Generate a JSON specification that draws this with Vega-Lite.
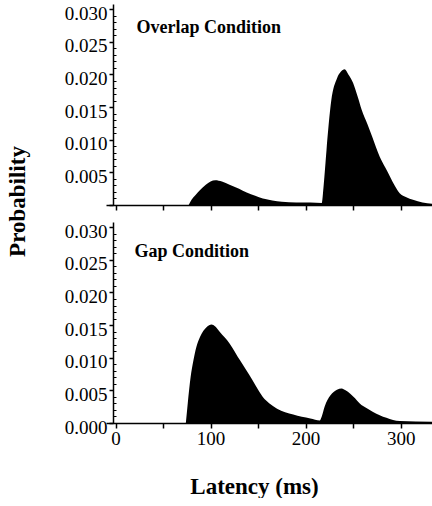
{
  "$schema": "https://vega.github.io/schema/vega-lite/v6.json",
  "background": "white",
  "padding": {"left": 6, "top": 4, "right": 0, "bottom": 0},
  "spacing": 17,
  "bounds": "flush",
  "config": {
    "view": {"stroke": null},
    "font": "Liberation Serif",
    "axis": {
      "grid": false,
      "domainColor": "black",
      "domainWidth": 1.5,
      "tickColor": "black",
      "tickWidth": 1.5,
      "labelColor": "black",
      "labelFont": "Liberation Serif",
      "labelFontSize": 19,
      "labelOverlap": false,
      "titleFont": "Liberation Serif",
      "titleColor": "black"
    }
  },
  "datasets": {
    "overlap": [
      {"latency": 77, "p": 0},
      {"latency": 80, "p": 0.0008},
      {"latency": 84, "p": 0.0015},
      {"latency": 89, "p": 0.0023},
      {"latency": 95, "p": 0.0031},
      {"latency": 100, "p": 0.0036},
      {"latency": 105, "p": 0.0038},
      {"latency": 112, "p": 0.0036},
      {"latency": 120, "p": 0.0031},
      {"latency": 130, "p": 0.0025},
      {"latency": 138, "p": 0.0019},
      {"latency": 147, "p": 0.0014},
      {"latency": 155, "p": 0.0010},
      {"latency": 165, "p": 0.0007},
      {"latency": 175, "p": 0.0005},
      {"latency": 190, "p": 0.0004},
      {"latency": 205, "p": 0.0004},
      {"latency": 217, "p": 0.0003},
      {"latency": 219, "p": 0.0030},
      {"latency": 222, "p": 0.0084},
      {"latency": 227, "p": 0.0160},
      {"latency": 233, "p": 0.0194},
      {"latency": 237, "p": 0.0204},
      {"latency": 241, "p": 0.0208},
      {"latency": 245, "p": 0.0200},
      {"latency": 250, "p": 0.0187},
      {"latency": 255, "p": 0.0165},
      {"latency": 259, "p": 0.0146},
      {"latency": 265, "p": 0.0124},
      {"latency": 270, "p": 0.0105},
      {"latency": 278, "p": 0.0074},
      {"latency": 284, "p": 0.0057},
      {"latency": 289, "p": 0.0043},
      {"latency": 294, "p": 0.0029},
      {"latency": 299, "p": 0.0018},
      {"latency": 306, "p": 0.0012},
      {"latency": 313, "p": 0.0008},
      {"latency": 323, "p": 0.0004},
      {"latency": 333, "p": 0.0002}
    ],
    "gap": [
      {"latency": 74, "p": 0},
      {"latency": 76, "p": 0.0030},
      {"latency": 79, "p": 0.0070},
      {"latency": 82, "p": 0.0096},
      {"latency": 85, "p": 0.0116},
      {"latency": 89, "p": 0.0132},
      {"latency": 96, "p": 0.0147},
      {"latency": 101, "p": 0.0151},
      {"latency": 105, "p": 0.0148},
      {"latency": 110, "p": 0.0139},
      {"latency": 120, "p": 0.0122},
      {"latency": 131, "p": 0.0096},
      {"latency": 141, "p": 0.0073},
      {"latency": 148, "p": 0.0056},
      {"latency": 155, "p": 0.0040},
      {"latency": 162, "p": 0.0030},
      {"latency": 170, "p": 0.0022},
      {"latency": 187, "p": 0.0013},
      {"latency": 205, "p": 0.0007},
      {"latency": 215, "p": 0.0004},
      {"latency": 217, "p": 0.0010},
      {"latency": 220, "p": 0.0025},
      {"latency": 226, "p": 0.0042},
      {"latency": 233, "p": 0.0051},
      {"latency": 238, "p": 0.0053},
      {"latency": 242, "p": 0.0050},
      {"latency": 247, "p": 0.0045},
      {"latency": 252, "p": 0.0038},
      {"latency": 257, "p": 0.0030},
      {"latency": 264, "p": 0.0023},
      {"latency": 271, "p": 0.0017},
      {"latency": 278, "p": 0.0012},
      {"latency": 285, "p": 0.0008},
      {"latency": 299, "p": 0.0003},
      {"latency": 333, "p": 0.0002}
    ]
  },
  "vconcat": [
    {
      "width": 326,
      "height": 201,
      "resolve": {"axis": {"y": "independent"}},
      "layer": [
        {
          "data": {"name": "overlap"},
          "mark": {"type": "area", "color": "black", "interpolate": "monotone"},
          "encoding": {
            "x": {"field": "latency", "type": "quantitative",
              "scale": {"domain": [-10, 333], "nice": false, "zero": false},
              "axis": {"values": [0, 50, 100, 150, 200, 250, 300], "labels": false, "title": null, "tickSize": 5}},
            "y": {"field": "p", "type": "quantitative",
              "scale": {"domain": [0, 0.0308], "nice": false},
              "axis": {"values": [0, 0.005, 0.01, 0.015, 0.02, 0.025, 0.03], "tickCount": 20, "offset": -7, "tickSize": 4, "labelPadding": 2, "labelOffset": 4,
                "labelOverlap": false,
                "labelExpr": "datum.value == 0 ? '' : format(datum.value, '.3f')", "title": null}}
          }
        },
        {
          "data": {"values": [{"label": "Overlap Condition"}]},
          "mark": {"type": "text", "align": "left", "baseline": "middle", "font": "Liberation Serif", "fontWeight": "bold", "fontSize": 18, "color": "black"},
          "encoding": {
            "x": {"datum": 22},
            "y": {"datum": 0.0271, "type": "quantitative",
              "axis": {"orient": "left", "offset": -7, "domain": false, "labels": false, "title": null, "tickSize": -3, "tickWidth": 1, "tickCount": 40,
                "values": [0.001, 0.002, 0.003, 0.004, 0.006, 0.007, 0.008, 0.009, 0.011, 0.012, 0.013, 0.014, 0.016, 0.017, 0.018, 0.019, 0.021, 0.022, 0.023, 0.024, 0.026, 0.027, 0.028, 0.029]}},
            "text": {"field": "label"}
          }
        }
      ]
    },
    {
      "width": 326,
      "height": 201,
      "resolve": {"axis": {"y": "independent"}},
      "layer": [
        {
          "data": {"name": "gap"},
          "mark": {"type": "area", "color": "black", "interpolate": "monotone"},
          "encoding": {
            "x": {"field": "latency", "type": "quantitative",
              "scale": {"domain": [-10, 333], "nice": false, "zero": false},
              "axis": {"values": [0, 50, 100, 150, 200, 250, 300], "tickSize": 5, "labelPadding": 1, "labelOverlap": false,
                "labelExpr": "datum.value % 100 == 0 ? datum.value : ''",
                "title": "Latency (ms)", "titleFontSize": 23, "titleFontWeight": "bold", "titlePadding": 27,
                "titleX": 148, "titleAlign": "center"}},
            "y": {"field": "p", "type": "quantitative",
              "scale": {"domain": [0, 0.0308], "nice": false},
              "axis": {"values": [0, 0.005, 0.01, 0.015, 0.02, 0.025, 0.03], "tickCount": 20, "offset": -7, "tickSize": 4, "labelPadding": 2, "labelOffset": 4,
                "labelOverlap": false,
                "format": ".3f",
                "title": "Probability", "titleFontSize": 23, "titleFontWeight": "bold", "titleAngle": -90,
                "titleX": -96, "titleY": -21, "titleAlign": "center", "titleBaseline": "middle"}}
          }
        },
        {
          "data": {"values": [{"label": "Gap Condition"}]},
          "mark": {"type": "text", "align": "left", "baseline": "middle", "font": "Liberation Serif", "fontWeight": "bold", "fontSize": 18, "color": "black"},
          "encoding": {
            "x": {"datum": 20},
            "y": {"datum": 0.0262, "type": "quantitative",
              "axis": {"orient": "left", "offset": -7, "domain": false, "labels": false, "title": null, "tickSize": -3, "tickWidth": 1, "tickCount": 40,
                "values": [0.001, 0.002, 0.003, 0.004, 0.006, 0.007, 0.008, 0.009, 0.011, 0.012, 0.013, 0.014, 0.016, 0.017, 0.018, 0.019, 0.021, 0.022, 0.023, 0.024, 0.026, 0.027, 0.028, 0.029]}},
            "text": {"field": "label"}
          }
        }
      ]
    }
  ]
}
